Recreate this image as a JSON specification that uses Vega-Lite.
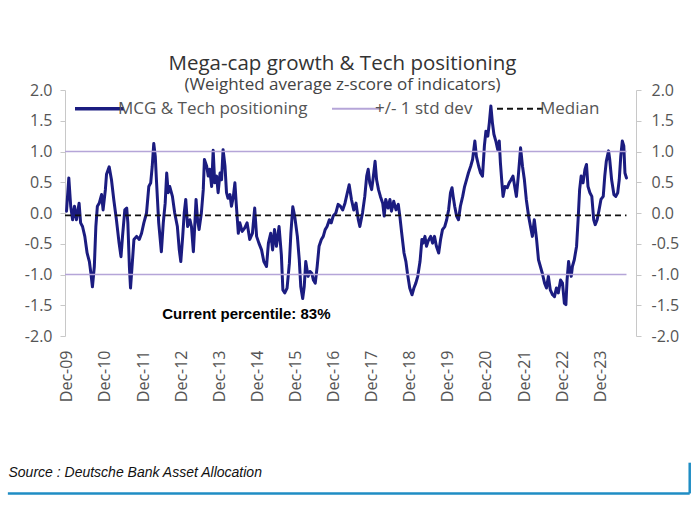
{
  "$schema": "https://vega.github.io/schema/vega-lite/v6.json",
  "width": 571,
  "height": 246,
  "autosize": {"type": "none"},
  "padding": {"left": 65, "top": 90, "right": 64, "bottom": 184},
  "background": "white",
  "config": {
    "view": {"stroke": null},
    "font": "Open Sans"
  },
  "title": {
    "text": "Mega-cap growth & Tech positioning",
    "subtitle": "(Weighted average z-score of indicators)",
    "font": "Open Sans", "fontSize": 20.5, "fontWeight": "normal", "color": "#333333",
    "subtitleFont": "Open Sans", "subtitleFontSize": 17, "subtitleColor": "#444444",
    "anchor": "middle", "dx": -8, "offset": -11, "subtitlePadding": 3
  },
  "datasets": {
    "mcg": [
      {"series":"MCG & Tech positioning","t":2009.91,"v":0.03},{"series":"MCG & Tech positioning","t":2009.97,"v":0.57},{"series":"MCG & Tech positioning","t":2010.02,"v":0.11},{"series":"MCG & Tech positioning","t":2010.07,"v":-0.11},{"series":"MCG & Tech positioning","t":2010.12,"v":0.11},{"series":"MCG & Tech positioning","t":2010.17,"v":-0.11},{"series":"MCG & Tech positioning","t":2010.24,"v":0.16},{"series":"MCG & Tech positioning","t":2010.28,"v":-0.16},{"series":"MCG & Tech positioning","t":2010.33,"v":-0.22},{"series":"MCG & Tech positioning","t":2010.39,"v":-0.38},{"series":"MCG & Tech positioning","t":2010.45,"v":-0.65},{"series":"MCG & Tech positioning","t":2010.51,"v":-0.79},{"series":"MCG & Tech positioning","t":2010.55,"v":-0.98},{"series":"MCG & Tech positioning","t":2010.59,"v":-1.2},{"series":"MCG & Tech positioning","t":2010.64,"v":-0.87},{"series":"MCG & Tech positioning","t":2010.68,"v":-0.22},{"series":"MCG & Tech positioning","t":2010.72,"v":0.11},{"series":"MCG & Tech positioning","t":2010.77,"v":0.16},{"series":"MCG & Tech positioning","t":2010.83,"v":0.3},{"series":"MCG & Tech positioning","t":2010.87,"v":0.05},{"series":"MCG & Tech positioning","t":2010.93,"v":0.38},{"series":"MCG & Tech positioning","t":2010.96,"v":0.63},{"series":"MCG & Tech positioning","t":2011.03,"v":0.75},{"series":"MCG & Tech positioning","t":2011.09,"v":0.54},{"series":"MCG & Tech positioning","t":2011.15,"v":0.22},{"series":"MCG & Tech positioning","t":2011.22,"v":-0.11},{"series":"MCG & Tech positioning","t":2011.29,"v":-0.49},{"series":"MCG & Tech positioning","t":2011.34,"v":-0.71},{"series":"MCG & Tech positioning","t":2011.38,"v":-0.38},{"series":"MCG & Tech positioning","t":2011.44,"v":0.05},{"series":"MCG & Tech positioning","t":2011.49,"v":0.08},{"series":"MCG & Tech positioning","t":2011.52,"v":-0.16},{"series":"MCG & Tech positioning","t":2011.56,"v":-0.87},{"series":"MCG & Tech positioning","t":2011.59,"v":-1.22},{"series":"MCG & Tech positioning","t":2011.63,"v":-0.87},{"series":"MCG & Tech positioning","t":2011.68,"v":-0.43},{"series":"MCG & Tech positioning","t":2011.75,"v":-0.38},{"series":"MCG & Tech positioning","t":2011.82,"v":-0.43},{"series":"MCG & Tech positioning","t":2011.88,"v":-0.33},{"series":"MCG & Tech positioning","t":2011.94,"v":-0.16},{"series":"MCG & Tech positioning","t":2012.01,"v":0.0},{"series":"MCG & Tech positioning","t":2012.07,"v":0.43},{"series":"MCG & Tech positioning","t":2012.12,"v":0.49},{"series":"MCG & Tech positioning","t":2012.16,"v":0.76},{"series":"MCG & Tech positioning","t":2012.2,"v":1.13},{"series":"MCG & Tech positioning","t":2012.24,"v":0.92},{"series":"MCG & Tech positioning","t":2012.27,"v":0.54},{"series":"MCG & Tech positioning","t":2012.33,"v":-0.16},{"series":"MCG & Tech positioning","t":2012.4,"v":-0.63},{"series":"MCG & Tech positioning","t":2012.45,"v":-0.16},{"series":"MCG & Tech positioning","t":2012.5,"v":0.16},{"series":"MCG & Tech positioning","t":2012.54,"v":0.65},{"series":"MCG & Tech positioning","t":2012.58,"v":0.33},{"series":"MCG & Tech positioning","t":2012.62,"v":0.43},{"series":"MCG & Tech positioning","t":2012.69,"v":0.27},{"series":"MCG & Tech positioning","t":2012.75,"v":0.0},{"series":"MCG & Tech positioning","t":2012.82,"v":-0.22},{"series":"MCG & Tech positioning","t":2012.87,"v":-0.6},{"series":"MCG & Tech positioning","t":2012.91,"v":-0.79},{"series":"MCG & Tech positioning","t":2012.96,"v":-0.38},{"series":"MCG & Tech positioning","t":2013.0,"v":0.0},{"series":"MCG & Tech positioning","t":2013.04,"v":0.22},{"series":"MCG & Tech positioning","t":2013.09,"v":-0.22},{"series":"MCG & Tech positioning","t":2013.15,"v":-0.11},{"series":"MCG & Tech positioning","t":2013.19,"v":-0.22},{"series":"MCG & Tech positioning","t":2013.24,"v":-0.63},{"series":"MCG & Tech positioning","t":2013.28,"v":-0.16},{"series":"MCG & Tech positioning","t":2013.31,"v":0.22},{"series":"MCG & Tech positioning","t":2013.35,"v":-0.11},{"series":"MCG & Tech positioning","t":2013.39,"v":-0.27},{"series":"MCG & Tech positioning","t":2013.45,"v":0.0},{"series":"MCG & Tech positioning","t":2013.5,"v":0.38},{"series":"MCG & Tech positioning","t":2013.53,"v":0.87},{"series":"MCG & Tech positioning","t":2013.59,"v":0.76},{"series":"MCG & Tech positioning","t":2013.63,"v":0.6},{"series":"MCG & Tech positioning","t":2013.67,"v":0.71},{"series":"MCG & Tech positioning","t":2013.72,"v":0.43},{"series":"MCG & Tech positioning","t":2013.76,"v":1.02},{"series":"MCG & Tech positioning","t":2013.8,"v":0.49},{"series":"MCG & Tech positioning","t":2013.85,"v":0.6},{"series":"MCG & Tech positioning","t":2013.89,"v":0.33},{"series":"MCG & Tech positioning","t":2013.94,"v":0.65},{"series":"MCG & Tech positioning","t":2013.98,"v":0.54},{"series":"MCG & Tech positioning","t":2014.02,"v":1.03},{"series":"MCG & Tech positioning","t":2014.07,"v":0.76},{"series":"MCG & Tech positioning","t":2014.11,"v":0.33},{"series":"MCG & Tech positioning","t":2014.15,"v":0.24},{"series":"MCG & Tech positioning","t":2014.2,"v":0.3},{"series":"MCG & Tech positioning","t":2014.24,"v":0.11},{"series":"MCG & Tech positioning","t":2014.29,"v":0.27},{"series":"MCG & Tech positioning","t":2014.33,"v":0.49},{"series":"MCG & Tech positioning","t":2014.37,"v":0.11},{"series":"MCG & Tech positioning","t":2014.42,"v":-0.33},{"series":"MCG & Tech positioning","t":2014.46,"v":-0.16},{"series":"MCG & Tech positioning","t":2014.52,"v":-0.3},{"series":"MCG & Tech positioning","t":2014.59,"v":-0.24},{"series":"MCG & Tech positioning","t":2014.65,"v":-0.16},{"series":"MCG & Tech positioning","t":2014.72,"v":-0.43},{"series":"MCG & Tech positioning","t":2014.79,"v":-0.33},{"series":"MCG & Tech positioning","t":2014.85,"v":0.08},{"series":"MCG & Tech positioning","t":2014.9,"v":-0.38},{"series":"MCG & Tech positioning","t":2014.96,"v":-0.49},{"series":"MCG & Tech positioning","t":2015.03,"v":-0.6},{"series":"MCG & Tech positioning","t":2015.09,"v":-0.79},{"series":"MCG & Tech positioning","t":2015.16,"v":-0.87},{"series":"MCG & Tech positioning","t":2015.21,"v":-0.49},{"series":"MCG & Tech positioning","t":2015.27,"v":-0.33},{"series":"MCG & Tech positioning","t":2015.32,"v":-0.6},{"series":"MCG & Tech positioning","t":2015.37,"v":-0.27},{"series":"MCG & Tech positioning","t":2015.42,"v":-0.54},{"series":"MCG & Tech positioning","t":2015.49,"v":-0.22},{"series":"MCG & Tech positioning","t":2015.55,"v":-0.68},{"series":"MCG & Tech positioning","t":2015.59,"v":-1.25},{"series":"MCG & Tech positioning","t":2015.64,"v":-1.3},{"series":"MCG & Tech positioning","t":2015.7,"v":-1.22},{"series":"MCG & Tech positioning","t":2015.76,"v":-0.82},{"series":"MCG & Tech positioning","t":2015.8,"v":-0.33},{"series":"MCG & Tech positioning","t":2015.85,"v":0.1},{"series":"MCG & Tech positioning","t":2015.9,"v":-0.05},{"series":"MCG & Tech positioning","t":2015.97,"v":-0.38},{"series":"MCG & Tech positioning","t":2016.02,"v":-0.76},{"series":"MCG & Tech positioning","t":2016.06,"v":-1.2},{"series":"MCG & Tech positioning","t":2016.11,"v":-1.39},{"series":"MCG & Tech positioning","t":2016.15,"v":-1.2},{"series":"MCG & Tech positioning","t":2016.19,"v":-0.79},{"series":"MCG & Tech positioning","t":2016.25,"v":-1.03},{"series":"MCG & Tech positioning","t":2016.3,"v":-0.95},{"series":"MCG & Tech positioning","t":2016.35,"v":-0.98},{"series":"MCG & Tech positioning","t":2016.39,"v":-1.09},{"series":"MCG & Tech positioning","t":2016.44,"v":-1.14},{"series":"MCG & Tech positioning","t":2016.49,"v":-0.87},{"series":"MCG & Tech positioning","t":2016.54,"v":-0.54},{"series":"MCG & Tech positioning","t":2016.6,"v":-0.43},{"series":"MCG & Tech positioning","t":2016.65,"v":-0.38},{"series":"MCG & Tech positioning","t":2016.7,"v":-0.27},{"series":"MCG & Tech positioning","t":2016.75,"v":-0.22},{"series":"MCG & Tech positioning","t":2016.81,"v":-0.11},{"series":"MCG & Tech positioning","t":2016.86,"v":-0.16},{"series":"MCG & Tech positioning","t":2016.91,"v":-0.05},{"series":"MCG & Tech positioning","t":2016.98,"v":0.0},{"series":"MCG & Tech positioning","t":2017.04,"v":0.14},{"series":"MCG & Tech positioning","t":2017.1,"v":0.11},{"series":"MCG & Tech positioning","t":2017.16,"v":0.05},{"series":"MCG & Tech positioning","t":2017.22,"v":0.16},
      {"series":"MCG & Tech positioning","t":2017.33,"v":0.46},{"series":"MCG & Tech positioning","t":2017.39,"v":0.22},{"series":"MCG & Tech positioning","t":2017.45,"v":0.05},{"series":"MCG & Tech positioning","t":2017.51,"v":0.16},{"series":"MCG & Tech positioning","t":2017.57,"v":-0.11},{"series":"MCG & Tech positioning","t":2017.61,"v":-0.22},{"series":"MCG & Tech positioning","t":2017.68,"v":0.0},{"series":"MCG & Tech positioning","t":2017.74,"v":0.27},{"series":"MCG & Tech positioning","t":2017.79,"v":0.6},{"series":"MCG & Tech positioning","t":2017.83,"v":0.71},{"series":"MCG & Tech positioning","t":2017.87,"v":0.49},{"series":"MCG & Tech positioning","t":2017.92,"v":0.38},{"series":"MCG & Tech positioning","t":2017.96,"v":0.57},{"series":"MCG & Tech positioning","t":2018.01,"v":0.84},{"series":"MCG & Tech positioning","t":2018.05,"v":0.54},{"series":"MCG & Tech positioning","t":2018.1,"v":0.38},{"series":"MCG & Tech positioning","t":2018.15,"v":0.27},{"series":"MCG & Tech positioning","t":2018.21,"v":0.16},{"series":"MCG & Tech positioning","t":2018.25,"v":-0.05},{"series":"MCG & Tech positioning","t":2018.29,"v":0.22},{"series":"MCG & Tech positioning","t":2018.35,"v":0.08},{"series":"MCG & Tech positioning","t":2018.4,"v":0.22},{"series":"MCG & Tech positioning","t":2018.44,"v":0.03},{"series":"MCG & Tech positioning","t":2018.5,"v":0.19},{"series":"MCG & Tech positioning","t":2018.56,"v":0.05},{"series":"MCG & Tech positioning","t":2018.62,"v":0.14},{"series":"MCG & Tech positioning","t":2018.66,"v":-0.05},{"series":"MCG & Tech positioning","t":2018.71,"v":-0.33},{"series":"MCG & Tech positioning","t":2018.77,"v":-0.65},{"series":"MCG & Tech positioning","t":2018.82,"v":-0.79},{"series":"MCG & Tech positioning","t":2018.86,"v":-0.98},{"series":"MCG & Tech positioning","t":2018.92,"v":-1.22},{"series":"MCG & Tech positioning","t":2018.98,"v":-1.33},{"series":"MCG & Tech positioning","t":2019.03,"v":-1.22},{"series":"MCG & Tech positioning","t":2019.08,"v":-1.14},{"series":"MCG & Tech positioning","t":2019.13,"v":-1.03},{"series":"MCG & Tech positioning","t":2019.19,"v":-0.79},{"series":"MCG & Tech positioning","t":2019.24,"v":-0.43},{"series":"MCG & Tech positioning","t":2019.27,"v":-0.49},{"series":"MCG & Tech positioning","t":2019.32,"v":-0.38},{"series":"MCG & Tech positioning","t":2019.36,"v":-0.54},{"series":"MCG & Tech positioning","t":2019.4,"v":-0.46},{"series":"MCG & Tech positioning","t":2019.47,"v":-0.38},{"series":"MCG & Tech positioning","t":2019.52,"v":-0.49},{"series":"MCG & Tech positioning","t":2019.57,"v":-0.38},{"series":"MCG & Tech positioning","t":2019.62,"v":-0.54},{"series":"MCG & Tech positioning","t":2019.68,"v":-0.65},{"series":"MCG & Tech positioning","t":2019.73,"v":-0.43},{"series":"MCG & Tech positioning","t":2019.78,"v":-0.27},{"series":"MCG & Tech positioning","t":2019.84,"v":-0.22},{"series":"MCG & Tech positioning","t":2019.89,"v":-0.11},{"series":"MCG & Tech positioning","t":2019.94,"v":0.05},{"series":"MCG & Tech positioning","t":2019.99,"v":0.33},{"series":"MCG & Tech positioning","t":2020.03,"v":0.41},{"series":"MCG & Tech positioning","t":2020.06,"v":0.27},{"series":"MCG & Tech positioning","t":2020.1,"v":0.11},{"series":"MCG & Tech positioning","t":2020.15,"v":-0.05},{"series":"MCG & Tech positioning","t":2020.2,"v":-0.11},{"series":"MCG & Tech positioning","t":2020.25,"v":0.11},{"series":"MCG & Tech positioning","t":2020.31,"v":0.27},{"series":"MCG & Tech positioning","t":2020.36,"v":0.43},{"series":"MCG & Tech positioning","t":2020.41,"v":0.54},{"series":"MCG & Tech positioning","t":2020.46,"v":0.65},{"series":"MCG & Tech positioning","t":2020.52,"v":0.76},{"series":"MCG & Tech positioning","t":2020.57,"v":0.87},{"series":"MCG & Tech positioning","t":2020.63,"v":1.17},{"series":"MCG & Tech positioning","t":2020.67,"v":0.92},{"series":"MCG & Tech positioning","t":2020.73,"v":0.76},{"series":"MCG & Tech positioning","t":2020.78,"v":0.65},{"series":"MCG & Tech positioning","t":2020.83,"v":0.6},{"series":"MCG & Tech positioning","t":2020.88,"v":1.09},{"series":"MCG & Tech positioning","t":2020.92,"v":1.33},{"series":"MCG & Tech positioning","t":2020.97,"v":1.25},{"series":"MCG & Tech positioning","t":2021.01,"v":1.47},{"series":"MCG & Tech positioning","t":2021.05,"v":1.74},{"series":"MCG & Tech positioning","t":2021.09,"v":1.47},{"series":"MCG & Tech positioning","t":2021.13,"v":1.28},{"series":"MCG & Tech positioning","t":2021.18,"v":1.17},{"series":"MCG & Tech positioning","t":2021.23,"v":1.03},{"series":"MCG & Tech positioning","t":2021.27,"v":1.17},{"series":"MCG & Tech positioning","t":2021.3,"v":0.82},{"series":"MCG & Tech positioning","t":2021.34,"v":0.49},{"series":"MCG & Tech positioning","t":2021.37,"v":0.27},{"series":"MCG & Tech positioning","t":2021.42,"v":0.43},{"series":"MCG & Tech positioning","t":2021.48,"v":0.41},{"series":"MCG & Tech positioning","t":2021.53,"v":0.49},{"series":"MCG & Tech positioning","t":2021.58,"v":0.54},{"series":"MCG & Tech positioning","t":2021.63,"v":0.6},{"series":"MCG & Tech positioning","t":2021.69,"v":0.38},{"series":"MCG & Tech positioning","t":2021.72,"v":0.27},{"series":"MCG & Tech positioning","t":2021.77,"v":0.6},{"series":"MCG & Tech positioning","t":2021.83,"v":1.06},{"series":"MCG & Tech positioning","t":2021.88,"v":0.76},{"series":"MCG & Tech positioning","t":2021.93,"v":0.54},{"series":"MCG & Tech positioning","t":2021.98,"v":0.22},{"series":"MCG & Tech positioning","t":2022.04,"v":-0.05},{"series":"MCG & Tech positioning","t":2022.09,"v":-0.22},{"series":"MCG & Tech positioning","t":2022.14,"v":-0.38},{"series":"MCG & Tech positioning","t":2022.19,"v":-0.11},{"series":"MCG & Tech positioning","t":2022.25,"v":-0.43},{"series":"MCG & Tech positioning","t":2022.3,"v":-0.76},{"series":"MCG & Tech positioning","t":2022.35,"v":-0.87},{"series":"MCG & Tech positioning","t":2022.4,"v":-0.98},{"series":"MCG & Tech positioning","t":2022.46,"v":-1.14},{"series":"MCG & Tech positioning","t":2022.51,"v":-1.22},{"series":"MCG & Tech positioning","t":2022.56,"v":-1.03},{"series":"MCG & Tech positioning","t":2022.61,"v":-1.25},{"series":"MCG & Tech positioning","t":2022.67,"v":-1.33},{"series":"MCG & Tech positioning","t":2022.72,"v":-1.36},{"series":"MCG & Tech positioning","t":2022.77,"v":-1.22},{"series":"MCG & Tech positioning","t":2022.82,"v":-1.3},{"series":"MCG & Tech positioning","t":2022.88,"v":-1.09},{"series":"MCG & Tech positioning","t":2022.93,"v":-1.14},{"series":"MCG & Tech positioning","t":2022.98,"v":-1.47},{"series":"MCG & Tech positioning","t":2023.02,"v":-1.49},{"series":"MCG & Tech positioning","t":2023.05,"v":-1.09},{"series":"MCG & Tech positioning","t":2023.09,"v":-0.79},{"series":"MCG & Tech positioning","t":2023.12,"v":-0.92},{"series":"MCG & Tech positioning","t":2023.16,"v":-1.03},{"series":"MCG & Tech positioning","t":2023.19,"v":-0.87},{"series":"MCG & Tech positioning","t":2023.24,"v":-0.76},{"series":"MCG & Tech positioning","t":2023.3,"v":-0.54},{"series":"MCG & Tech positioning","t":2023.34,"v":-0.11},{"series":"MCG & Tech positioning","t":2023.38,"v":0.38},{"series":"MCG & Tech positioning","t":2023.42,"v":0.6},{"series":"MCG & Tech positioning","t":2023.47,"v":0.49},{"series":"MCG & Tech positioning","t":2023.52,"v":0.71},{"series":"MCG & Tech positioning","t":2023.56,"v":0.79},{"series":"MCG & Tech positioning","t":2023.6,"v":0.43},{"series":"MCG & Tech positioning","t":2023.65,"v":0.33},{"series":"MCG & Tech positioning","t":2023.7,"v":0.27},{"series":"MCG & Tech positioning","t":2023.75,"v":-0.11},{"series":"MCG & Tech positioning","t":2023.79,"v":-0.19},{"series":"MCG & Tech positioning","t":2023.84,"v":-0.11},{"series":"MCG & Tech positioning","t":2023.89,"v":0.05},{"series":"MCG & Tech positioning","t":2023.94,"v":0.22},{"series":"MCG & Tech positioning","t":2024.0,"v":0.27},{"series":"MCG & Tech positioning","t":2024.04,"v":0.6},{"series":"MCG & Tech positioning","t":2024.08,"v":0.84},{"series":"MCG & Tech positioning","t":2024.14,"v":1.01},{"series":"MCG & Tech positioning","t":2024.17,"v":0.87},{"series":"MCG & Tech positioning","t":2024.22,"v":0.54},{"series":"MCG & Tech positioning","t":2024.28,"v":0.3},{"series":"MCG & Tech positioning","t":2024.33,"v":0.27},{"series":"MCG & Tech positioning","t":2024.38,"v":0.33},{"series":"MCG & Tech positioning","t":2024.42,"v":0.54},{"series":"MCG & Tech positioning","t":2024.46,"v":0.92},{"series":"MCG & Tech positioning","t":2024.5,"v":1.17},{"series":"MCG & Tech positioning","t":2024.54,"v":1.09},{"series":"MCG & Tech positioning","t":2024.57,"v":0.65},{"series":"MCG & Tech positioning","t":2024.61,"v":0.57}
    ]
  },
  "layer": [
    {
      "data": {"name": "mcg"},
      "mark": {"type": "line", "strokeWidth": 3, "strokeJoin": "round", "strokeCap": "round"},
      "encoding": {
        "x": {
          "field": "t", "type": "quantitative",
          "scale": {"domain": [2009.87, 2024.86], "nice": false, "zero": false},
          "axis": {
            "values": [2009.92, 2010.92, 2011.92, 2012.92, 2013.92, 2014.92, 2015.92, 2016.92, 2017.92, 2018.92, 2019.92, 2020.92, 2021.92, 2022.92, 2023.92],
            "labelExpr": "'Dec-' + format(floor(datum.value) % 100, '02d')",
            "labelAngle": 270, "labelAlign": "right", "labelBaseline": "middle", "labelPadding": 14,
            "domain": false, "ticks": false, "grid": false,
            "labelFont": "Open Sans", "labelFontSize": 16, "labelColor": "#555555",
            "labelOverlap": false, "labelFlush": false,
            "title": "Source : Deutsche Bank Asset Allocation",
            "titleFont": "Liberation Sans", "titleFontStyle": "italic", "titleFontWeight": "normal",
            "titleFontSize": 14, "titleColor": "#111111",
            "titleAnchor": "start", "titleAlign": "left", "titleBaseline": "alphabetic",
            "titleX": -57, "titleY": 140
          }
        },
        "y": {
          "field": "v", "type": "quantitative",
          "scale": {"domain": [-2, 2], "nice": false, "zero": false},
          "axis": {
            "orient": "left", "values": [-2, -1.5, -1, -0.5, 0, 0.5, 1, 1.5, 2],
            "labelExpr": "replace(format(datum.value, '.1f'), '−', '-')",
            "domainColor": "#c8c8c8", "tickColor": "#c8c8c8", "tickSize": 5, "labelPadding": 8,
            "grid": false, "labelFont": "Open Sans", "labelFontSize": 16, "labelColor": "#555555", "title": null
          }
        },
        "color": {
          "field": "series", "type": "nominal",
          "scale": {"domain": ["MCG & Tech positioning", "+/- 1 std dev", "Median"], "range": ["#1b1c80", "#b5a5d8", "#111111"]},
          "legend": {
            "title": null, "orient": "none", "legendX": 26, "legendY": 10, "direction": "horizontal",
            "symbolType": "stroke", "symbolSize": 2400, "labelOffset": 10, "columnPadding": 20, "padding": 0, "labelLimit": 400,
            "labelFont": "Open Sans", "labelFontSize": 17, "labelColor": "#555555",
            "encode": {
              "symbols": {
                "update": {
                  "strokeWidth": {"signal": "datum.value === 'MCG & Tech positioning' ? 3.5 : 2"},
                  "strokeDash": {"signal": "datum.value === 'Median' ? [6, 4] : [1, 0]"}
                }
              }
            }
          }
        }
      }
    },
    {
      "data": {"values": [
        {"series": "+/- 1 std dev", "t": 2009.87, "t2": 2024.61, "v": 1},
        {"series": "+/- 1 std dev", "t": 2009.87, "t2": 2024.61, "v": -1}
      ]},
      "mark": {"type": "rule", "strokeWidth": 1.6},
      "encoding": {
        "x": {"field": "t", "type": "quantitative"},
        "x2": {"field": "t2"},
        "y": {
          "field": "v", "type": "quantitative",
          "axis": {
            "orient": "right", "values": [-2, -1.5, -1, -0.5, 0, 0.5, 1, 1.5, 2],
            "labelExpr": "replace(format(datum.value, '.1f'), '−', '-')",
            "domainColor": "#c8c8c8", "tickColor": "#c8c8c8", "tickSize": 5, "labelPadding": 10,
            "grid": false, "labelFont": "Open Sans", "labelFontSize": 16, "labelColor": "#555555", "title": null
          }
        },
        "color": {"field": "series", "type": "nominal"}
      }
    },
    {
      "data": {"values": [
        {"series": "Median", "t": 2009.87, "t2": 2024.61, "v": -0.04}
      ]},
      "mark": {"type": "rule", "strokeWidth": 1.8, "strokeDash": [6, 4]},
      "encoding": {
        "x": {"field": "t", "type": "quantitative"},
        "x2": {"field": "t2"},
        "y": {"field": "v", "type": "quantitative", "axis": null},
        "color": {"field": "series", "type": "nominal"}
      }
    },
    {
      "data": {"values": [{"t": 2014.63, "v": -1.65, "label": "Current percentile: 83%"}]},
      "mark": {"type": "text", "font": "Liberation Sans", "fontWeight": "bold", "fontSize": 15, "color": "#000000", "align": "center", "baseline": "middle"},
      "encoding": {
        "x": {"field": "t", "type": "quantitative"},
        "y": {"field": "v", "type": "quantitative", "axis": null},
        "text": {"field": "label"}
      }
    },
    {
      "data": {"values": [{"t": 2026.27, "t2": 2026.27, "v": -4.06, "v2": -4.56}, {"t": 2008.37, "t2": 2026.27, "v": -4.56, "v2": -4.56}]},
      "mark": {"type": "rule", "color": "#1f8dc4", "strokeWidth": 2.5, "clip": false},
      "encoding": {
        "x": {"field": "t", "type": "quantitative"},
        "x2": {"field": "t2"},
        "y": {"field": "v", "type": "quantitative", "axis": null},
        "y2": {"field": "v2"}
      }
    }
  ],
  "resolve": {"axis": {"y": "independent"}}
}
